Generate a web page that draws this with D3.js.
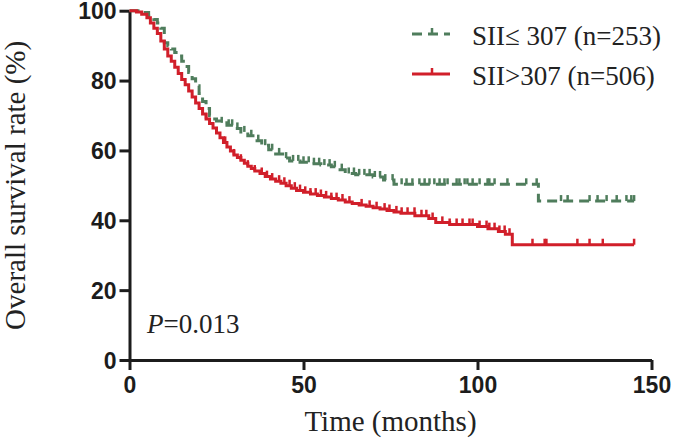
<!DOCTYPE html>
<html>
<head>
<meta charset="utf-8">
<script src="https://cdn.jsdelivr.net/npm/d3@7"></script>
<style>
  body { margin: 0; background: #fff; }
  svg { display: block; }
</style>
</head>
<body>
<div id="container"></div>
<script>
// Kaplan-Meier steps (months, % surviving)
const redTimes = [0, 2, 3.5, 5, 6, 7, 8, 9, 10, 11, 12, 13, 14, 15, 16, 17, 18, 19, 20, 21, 22, 23, 24, 25, 26, 27, 28, 29, 30,
  31, 32, 33, 34, 35, 36, 37.5, 39, 40.5, 42, 43.5, 45, 46.5, 48, 50, 52, 54, 56, 58, 60, 62, 64, 66, 68, 70, 72, 74, 76, 78,
  82, 86, 88, 92, 100, 103, 106, 108, 110, 145];
const redSurv = [100, 99.6, 99, 98, 96.5, 95, 93.5, 91.3, 89, 87, 85.5, 83.8, 82, 80.3, 78.8, 77, 75.3, 73.6, 72, 70.4, 69, 67.7, 66.4, 65, 63.6, 62.3, 61, 59.8, 58.7,
  58, 57.2, 56.3, 55.5, 54.8, 54.1, 53.4, 52.5, 51.8, 51.2, 50.6, 49.9, 49.2, 48.5, 48, 47.5, 47.1, 46.7, 46.2, 45.8, 45.2, 44.8, 44.4, 44, 43.6, 43.2, 42.8, 42.4, 42,
  41.3, 40.5, 39.4, 38.8, 38.2, 37.6, 36.8, 36, 33, 33];

const greenTimes = [0, 4, 5.5, 7, 8, 9, 10, 11, 12, 13, 14, 15, 16, 17, 18, 19, 20, 21, 22, 23, 24, 25, 26,
  28, 30, 32, 34, 36, 38, 40, 42, 44, 46, 49, 52, 55, 58, 60, 62, 65, 70, 73, 76, 117.5, 145];
const greenSurv = [100, 99.5, 98.5, 97.5, 96.5, 95, 90.8, 90, 89, 88, 87, 85.5, 84, 82.3, 80.5, 78.5, 76.3, 74, 72, 70, 69, 68.4, 67.9,
  67.2, 66.3, 65.3, 64.2, 62.8, 61.5, 60.2, 59, 57.8, 57, 56.6, 56.2, 55.8, 55.3, 54.5, 53.4, 53, 52.4, 51.5, 50.3, 45.5, 45.5];

// censored observations (months)
const greenCensor = [26.5, 28.5, 29.5, 31, 33, 35, 37, 39, 41, 43, 45, 47, 48.5, 50, 51.5, 53, 54.5, 56, 57.5, 59, 61, 63, 64.5,
  66, 67.5, 69, 70.5, 72, 73.5, 75.6, 78.2, 79.6, 81.3, 83.3, 84.8, 86.2, 87.6, 89.1, 90.5, 91.4, 94, 94.8, 96.3, 97.1, 98.6,
  100.6, 102.9, 103.4, 104.9, 108.6, 114, 117, 124, 125.9, 132.2, 134.5, 137.1, 140, 142.8, 144.2, 145];
const redCensor = [22, 25, 27.5, 30, 32, 34, 36, 38, 39.5, 41, 43, 44.5, 46, 47.5, 49, 50.5, 52, 53.5, 55, 56.5, 58, 59.5,
  61.2, 63.2, 66.7, 69, 71, 73.3, 74.7, 76.7, 78.2, 79.9, 81.9, 83.9, 85.3, 87.1, 89.9, 92, 94, 95.7, 97.7, 98.6, 100.6,
  102.6, 103.4, 104.9, 106.3, 107.8, 109.2, 115.8, 119.3, 119.8, 128.7, 132.2, 136, 145];

const xTicks = [0, 50, 100, 150];
const yTicks = [0, 20, 40, 60, 80, 100];

const groups = [
  { label: 'SII\u2264 307 (n=253)', times: greenTimes, surv: greenSurv, censor: greenCensor, color: '#4f7d5c', dash: '10,6' },
  { label: 'SII>307 (n=506)', times: redTimes, surv: redSurv, censor: redCensor, color: '#d11f2a', dash: null }
];

const W = 675, H = 444;
const svg = d3.select('#container').append('svg')
  .attr('width', W)
  .attr('height', H);

// Scales
const x = d3.scaleLinear().domain([0, 150]).range([129.5, 651.5]);
const y = d3.scaleLinear().domain([0, 100]).range([360, 10.7]);

// Axes
const axisColor = '#1c1c1c';
const xAxis = svg.append('g')
  .attr('transform', `translate(0,${y(0)})`)
  .call(d3.axisBottom(x).tickValues(xTicks).tickSize(10).tickPadding(7).tickSizeOuter(0));
const yAxis = svg.append('g')
  .attr('transform', `translate(${x(0)},0)`)
  .call(d3.axisLeft(y).tickValues(yTicks).tickSize(10).tickPadding(3).tickSizeOuter(0));

[xAxis, yAxis].forEach(g => {
  g.select('.domain').attr('stroke', axisColor).attr('stroke-width', 3);
  g.selectAll('.tick line').attr('stroke', axisColor).attr('stroke-width', 3);
  g.selectAll('.tick text')
    .attr('fill', axisColor)
    .style('font-family', '"Liberation Sans", Arial, sans-serif')
    .style('font-weight', 'bold')
    .style('font-size', '23px');
});
yAxis.selectAll('.tick text').attr('dy', '0.36em');

// Curves
const line = d3.line()
  .x(d => x(d[0]))
  .y(d => y(d[1]))
  .curve(d3.curveStepAfter);

function survAt(g, t) {
  const i = d3.bisectRight(g.times, t) - 1;
  return g.surv[Math.max(0, i)];
}

groups.forEach(g => {
  const pts = g.times.map((t, i) => [t, g.surv[i]]);
  svg.append('path')
    .datum(pts)
    .attr('fill', 'none')
    .attr('stroke', g.color)
    .attr('stroke-width', 3)
    .attr('stroke-dasharray', g.dash)
    .attr('d', line);

  svg.append('g').selectAll('line')
    .data(g.censor)
    .join('line')
    .attr('x1', d => x(d))
    .attr('x2', d => x(d))
    .attr('y1', d => y(survAt(g, d)))
    .attr('y2', d => y(survAt(g, d)) - 6)
    .attr('stroke', g.color)
    .attr('stroke-width', 2.5);
});

// Legend
const serif = '"Liberation Serif", "Times New Roman", serif';
const legend = svg.append('g');
groups.forEach((g, i) => {
  const ly = 34 + i * 40;
  legend.append('line')
    .attr('x1', 412).attr('x2', 450)
    .attr('y1', ly).attr('y2', ly)
    .attr('stroke', g.color)
    .attr('stroke-width', 3)
    .attr('stroke-dasharray', g.dash);
  legend.append('line')
    .attr('x1', 432).attr('x2', 432)
    .attr('y1', ly).attr('y2', ly - 6)
    .attr('stroke', g.color)
    .attr('stroke-width', 2.5);
  legend.append('text')
    .attr('x', 472)
    .attr('y', ly + 11)
    .style('font-family', serif)
    .style('font-size', '27px')
    .attr('fill', '#222')
    .text(g.label);
});

// P value
const ptxt = svg.append('text')
  .attr('x', 147)
  .attr('y', 333)
  .style('font-family', serif)
  .style('font-size', '27px')
  .attr('fill', '#222');
ptxt.append('tspan').style('font-style', 'italic').text('P');
ptxt.append('tspan').text('=0.013');

// Axis titles
svg.append('text')
  .attr('x', (x(0) + x(150)) / 2)
  .attr('y', 431)
  .attr('text-anchor', 'middle')
  .style('font-family', serif)
  .style('font-size', '29px')
  .attr('fill', '#222')
  .text('Time (months)');

svg.append('text')
  .attr('transform', `translate(25,${(y(0) + y(100)) / 2}) rotate(-90)`)
  .attr('text-anchor', 'middle')
  .style('font-family', serif)
  .style('font-size', '29px')
  .attr('fill', '#222')
  .text('Overall survival rate (%)');
</script>
</body>
</html>
